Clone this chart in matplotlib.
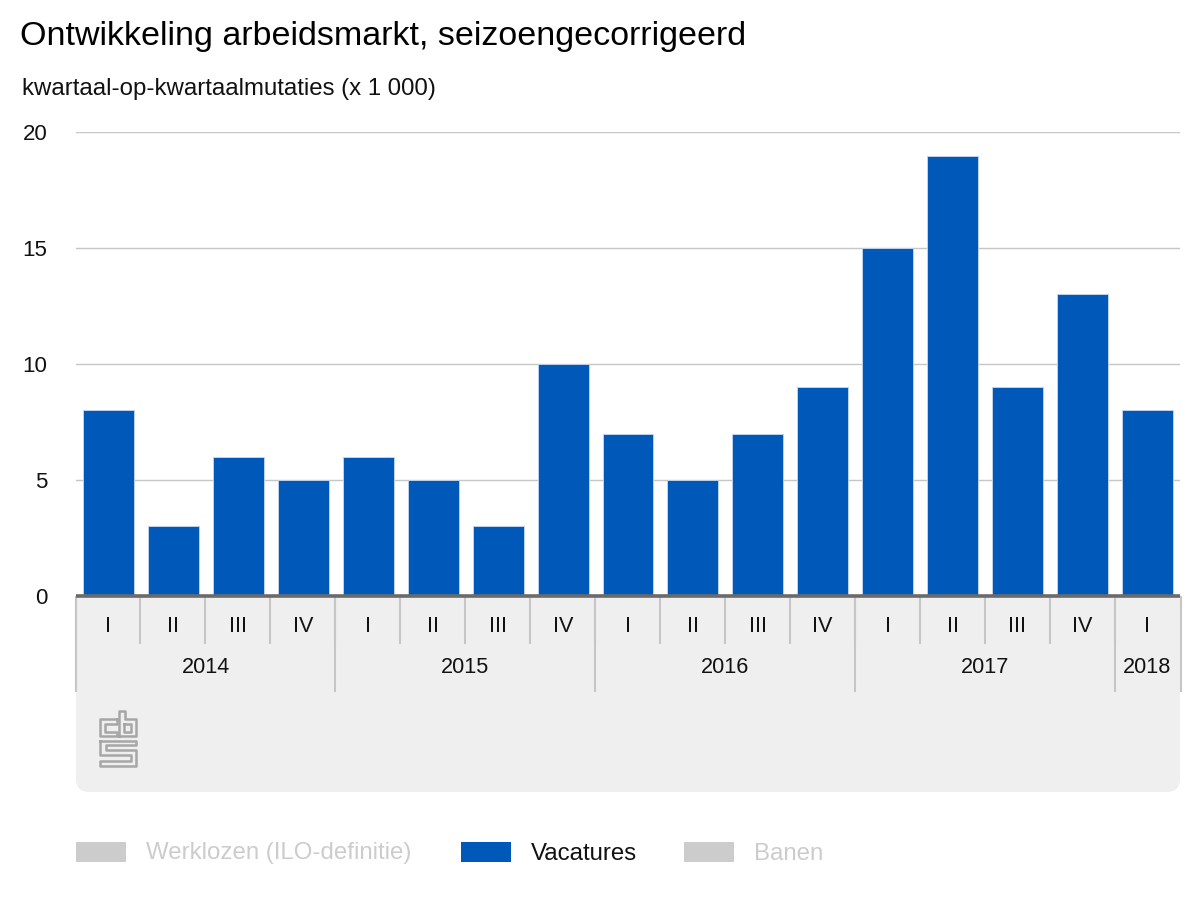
import matplotlib
matplotlib.use("Agg")
import matplotlib.pyplot as plt
from matplotlib.patches import FancyBboxPatch, Rectangle

plt.rcParams['font.family'] = ['Liberation Sans', 'DejaVu Sans']

title = "Ontwikkeling arbeidsmarkt, seizoengecorrigeerd"
subtitle = "kwartaal-op-kwartaalmutaties (x 1 000)"
quarters = ["I", "II", "III", "IV", "I", "II", "III", "IV", "I", "II", "III", "IV", "I", "II", "III", "IV", "I"]
years = ["2014", "2015", "2016", "2017", "2018"]
year_counts = [4, 4, 4, 4, 1]
vacatures = [8, 3, 6, 5, 6, 5, 3, 10, 7, 5, 7, 9, 15, 18.95, 9, 13, 8]
yticks = [0, 5, 10, 15, 20]
legend_items = ["Werklozen (ILO-definitie)", "Vacatures", "Banen"]

BLUE = "#0058b8"
PANEL = "#efefef"
GRID = "#c6c6c6"
W, H = 1200, 900
fig = plt.figure(figsize=(12, 9), dpi=100)

# pixel-coordinate overlay for chrome
bg = fig.add_axes([0, 0, 1, 1], zorder=0)
bg.set_xlim(0, W); bg.set_ylim(H, 0); bg.axis("off")

L, R, T, B = 76, 1180, 132, 596
ax = fig.add_axes([L / W, 1 - B / H, (R - L) / W, (B - T) / H], zorder=1)
ax.patch.set_alpha(0)
n = len(vacatures)
ax.set_xlim(-0.5, n - 0.5)
ax.set_ylim(0, 20)
ax.bar(range(n), vacatures, width=0.785, color=BLUE, edgecolor="#bcd2ec", linewidth=0.7, zorder=3)
ax.set_yticks(yticks)
ax.set_xticks([])
ax.yaxis.grid(True, color=GRID, lw=1.0, zorder=1)
ax.set_axisbelow(True)
ax.tick_params(axis="y", length=0, pad=20.5, labelsize=16, labelcolor="#111111")
for s in ["top", "left", "right"]:
    ax.spines[s].set_visible(False)
ax.spines["bottom"].set_color("#6a6a6a")
ax.spines["bottom"].set_linewidth(2.6)
ax.spines["bottom"].set_capstyle("butt")
ax.spines["bottom"].set_zorder(5)
for lab in ax.get_yticklabels():
    lab.set_ha("right")

# panel under the axis
bg.add_patch(FancyBboxPatch((L, 560), R - L, 792 - 560,
                            boxstyle="round,pad=0,rounding_size=13",
                            fc=PANEL, ec="none"))
bg.add_patch(Rectangle((0, 0), W, 596, fc="white", ec="none", zorder=1))

# category axis labels and separators, positioned via the data scale
def px(xval):
    return ax.transData.transform((xval, 0))[0]

SEP = dict(color=GRID, lw=1.5, zorder=2, solid_capstyle="butt")
for i, q in enumerate(quarters):
    bg.text(px(i) - 0.2, 626, q, ha="center", va="center", fontsize=15.6, color="#111111", zorder=3)
    bg.plot([px(i - 0.5) - 0.5] * 2, [596, 644], **SEP)

start = 0
for y, c in zip(years, year_counts):
    bg.text(px(start - 0.5 + c / 2) - 0.2, 667.5, y, ha="center", va="center", fontsize=15.6, color="#111111", zorder=3)
    bg.plot([px(start - 0.5) - 0.5] * 2, [596, 692], **SEP)
    start += c
bg.plot([px(n - 0.5) + 1] * 2, [596, 692], **SEP)

# titles
bg.text(20, 37, title, fontsize=24.5, color="black", ha="left", va="center", zorder=4)
bg.text(22, 89, subtitle, fontsize=17.3, color="#111111", ha="left", va="center", zorder=4)

def z(pts):
    return [(90 + a / 3, 700 + b / 3) for a, b in pts]

logo = [
    [(82, 57), (30, 57), (30, 107), (82, 107), (82, 95), (45, 95), (45, 72), (82, 72), (82, 57)],
    [(87, 107), (87, 32), (105, 32), (105, 57), (137, 57), (137, 107), (87, 107)],
    [(103, 72), (122, 72), (122, 95), (103, 95), (103, 72)],
    [(30, 122), (137, 122), (137, 135), (47, 135), (47, 150), (137, 150), (137, 198), (30, 198),
     (30, 183), (122, 183), (122, 165), (30, 165), (30, 122)],
]
for line in logo:
    xs, ys = zip(*z(line))
    bg.plot(xs, ys, color="#a6a6a6", lw=1.8, zorder=3, solid_joinstyle="round")

# legend
swatch_x = [76, 461, 684]
text_x = [146, 531, 754]
colors = ["#cccccc", BLUE, "#cccccc"]
tcolors = ["#cccccc", "#111111", "#cccccc"]
for sx, tx, lab, c, tc in zip(swatch_x, text_x, legend_items, colors, tcolors):
    bg.add_patch(Rectangle((sx, 842), 50, 20, fc=c, ec="none", zorder=3))
    bg.text(tx, 853.5, lab, fontsize=17.3, color=tc, ha="left", va="center", zorder=3)

fig.savefig("out.png", dpi=100)
